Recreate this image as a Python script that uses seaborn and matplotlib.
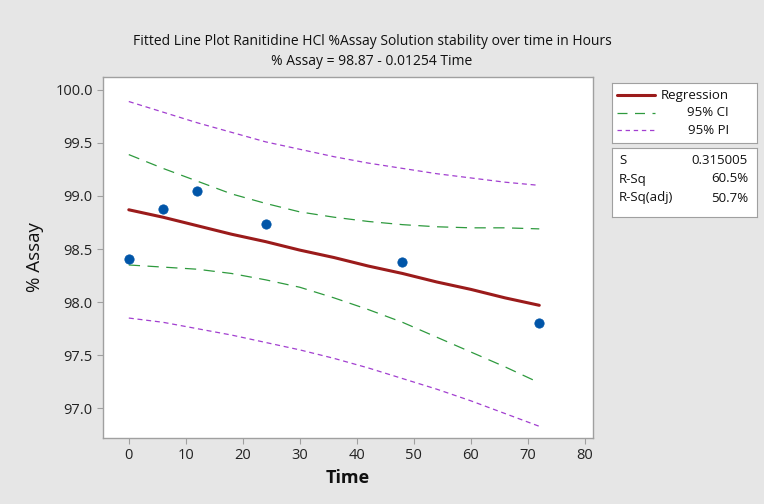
import numpy as np
import pandas as pd
import matplotlib
matplotlib.use("Agg")
import matplotlib.pyplot as plt
import seaborn as sns

# observed data
time_h = [0, 6, 12, 24, 48, 72]
assay = [98.41, 98.88, 99.05, 98.74, 98.38, 97.80]

# fitted line and bands
band_t = [0, 6, 12, 18, 24, 30, 36, 42, 48, 54, 60, 66, 72]
fit = [98.87, 98.80, 98.72, 98.64, 98.57, 98.49, 98.42, 98.34, 98.27, 98.19, 98.12, 98.04, 97.97]
ci_up = [99.39, 99.26, 99.14, 99.02, 98.93, 98.85, 98.80, 98.76, 98.73, 98.71, 98.70, 98.70, 98.69]
ci_lo = [98.35, 98.33, 98.31, 98.27, 98.21, 98.14, 98.04, 97.93, 97.81, 97.67, 97.53, 97.39, 97.24]
pi_up = [99.89, 99.79, 99.69, 99.60, 99.51, 99.44, 99.37, 99.31, 99.26, 99.21, 99.17, 99.13, 99.10]
pi_lo = [97.85, 97.81, 97.75, 97.69, 97.62, 97.55, 97.47, 97.38, 97.28, 97.18, 97.07, 96.95, 96.83]

stats_names = ["S", "R-Sq", "R-Sq(adj)"]
stats_vals = ["0.315005", "60.5%", "50.7%"]

RED = "#9b1b1b"
GREEN = "#2e9a3e"
PURPLE = "#a23fd0"
BLUE = "#0055a8"
BG = "#e6e6e6"
EDGE = "#a0a0a0"

sns.set_style("white")
plt.rcParams["font.family"] = ["Open Sans", "DejaVu Sans"]

pts = pd.DataFrame({"Time": time_h, "Assay": assay})
bands = pd.DataFrame({"Time": band_t, "fit": fit, "ci_up": ci_up, "ci_lo": ci_lo,
                      "pi_up": pi_up, "pi_lo": pi_lo})

fig = plt.figure(figsize=(7.64, 5.04), dpi=100, facecolor=BG)
ax = fig.add_axes([0.135, 0.131, 0.641, 0.716])
ax.set_facecolor("white")

sns.lineplot(data=bands, x="Time", y="pi_up", ax=ax, color=PURPLE, lw=0.9,
             linestyle=(0, (4, 3)))
sns.lineplot(data=bands, x="Time", y="pi_lo", ax=ax, color=PURPLE, lw=0.9,
             linestyle=(0, (4, 3)))
sns.lineplot(data=bands, x="Time", y="ci_up", ax=ax, color=GREEN, lw=0.9,
             linestyle=(0, (9, 6)))
sns.lineplot(data=bands, x="Time", y="ci_lo", ax=ax, color=GREEN, lw=0.9,
             linestyle=(0, (9, 6)))
sns.lineplot(data=bands, x="Time", y="fit", ax=ax, color=RED, lw=2.2)
sns.scatterplot(data=pts, x="Time", y="Assay", ax=ax, color=BLUE, s=45, edgecolor=BLUE,
                zorder=5)

ax.set_xlim(-4.5, 81.4)
ax.set_ylim(96.72, 100.12)
ax.set_xticks(range(0, 81, 10))
ax.set_yticks(np.arange(97.0, 100.01, 0.5))
ax.set_yticklabels([f"{v:.1f}" for v in np.arange(97.0, 100.01, 0.5)])
ax.tick_params(direction="out", length=4, color=EDGE, labelsize=10.5, labelcolor="#222222",
               bottom=True, left=True)
for sp in ax.spines.values():
    sp.set_color(EDGE)
    sp.set_linewidth(1.0)
ax.set_xlabel("Time", fontsize=13, fontweight="bold", color="#111111")
ax.set_ylabel("% Assay", fontsize=13.5, color="#111111", labelpad=8)

fig.text(0.487, 0.917, "Fitted Line Plot Ranitidine HCl %Assay Solution stability over time in Hours",
         ha="center", va="center", fontsize=10, color="#111111")
fig.text(0.487, 0.877, "% Assay = 98.87 - 0.01254 Time", ha="center", va="center",
         fontsize=10, color="#111111")

# legend and stats boxes
W, H = 764, 504
def box(x0, y0, x1, y1):
    a = fig.add_axes([x0 / W, 1 - y1 / H, (x1 - x0) / W, (y1 - y0) / H])
    a.set_xlim(x0, x1)
    a.set_ylim(y1, y0)
    a.set_xticks([])
    a.set_yticks([])
    a.set_facecolor("white")
    for sp in a.spines.values():
        sp.set_color(EDGE)
    return a

lg = box(612, 83, 757, 143)
entries = [("Regression", RED, "-", 2.2), ("95% CI", GREEN, (0, (8, 6)), 0.9),
           ("95% PI", PURPLE, (0, (3.5, 3)), 0.9)]
for i, (lab, c, ls, lw) in enumerate(entries):
    yy = 95 + i * 17.5
    lg.plot([617, 655], [yy, yy], color=c, linestyle=ls, lw=lw)
    lg.text(729, yy, lab, ha="right", va="center", fontsize=9.5, color="#111111")

st = box(612, 148, 757, 217)
for i, (n, v) in enumerate(zip(stats_names, stats_vals)):
    yy = 160 + i * 19
    st.text(619, yy, n, ha="left", va="center", fontsize=9.5, color="#111111")
    st.text(748, yy, v, ha="right", va="center", fontsize=9.5, color="#111111")

fig.savefig("out.png", dpi=100, facecolor=BG)
